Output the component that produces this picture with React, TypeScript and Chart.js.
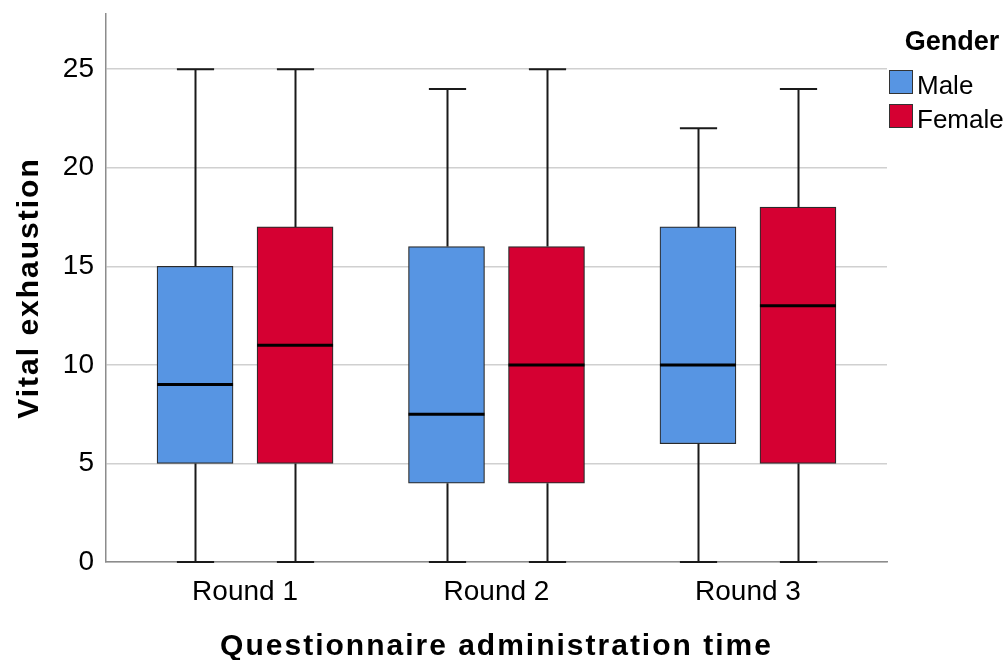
import React, { useEffect, useRef } from 'react';
import { Chart, registerables } from 'chart.js';

Chart.register(...registerables);

// ---- Data ----
const categories = ['Round 1', 'Round 2', 'Round 3'];
const seriesLabels = ['Male', 'Female'];
const seriesColors = ['#5795E3', '#D50032'];

const maleMin = [0, 0, 0];
const maleQ1 = [5, 4, 6];
const maleMedian = [9, 7.5, 10];
const maleQ3 = [15, 16, 17];
const maleMax = [25, 24, 22];

const femaleMin = [0, 0, 0];
const femaleQ1 = [5, 4, 5];
const femaleMedian = [11, 10, 13];
const femaleQ3 = [17, 16, 18];
const femaleMax = [25, 25, 24];

const yMin = 0;
const yMax = 27.8;
const yStep = 5;

const xTitle = 'Questionnaire administration time';
const yTitle = 'Vital exhaustion';
const legendTitle = 'Gender';

const FONT = '"Liberation Sans", Arial, sans-serif';

const stats = [
  { min: maleMin, q1: maleQ1, med: maleMedian, q3: maleQ3, max: maleMax },
  { min: femaleMin, q1: femaleQ1, med: femaleMedian, q3: femaleQ3, max: femaleMax },
];

const boxPlugin = {
  id: 'boxWhiskers',
  beforeDraw(chart: any) {
    for (const id of ['x', 'y']) {
      const s: any = chart.scales[id];
      if (s && !s.__ls) {
        const orig = s.drawTitle.bind(s);
        s.drawTitle = () => {
          const c = s.ctx;
          c.save();
          (c as any).letterSpacing = '2px';
          orig();
          c.restore();
        };
        s.__ls = true;
      }
    }
  },
  afterDatasetsDraw(chart: any) {
    const ctx = chart.ctx;
    const y = chart.scales.y;
    stats.forEach((st, d) => {
      const meta = chart.getDatasetMeta(d);
      meta.data.forEach((bar: any, i: number) => {
        const cx = Math.round(bar.x) + 0.5;
        const w = bar.width;
        const capHalf = w * 0.245;
        const pMin = y.getPixelForValue(st.min[i]);
        const pQ1 = y.getPixelForValue(st.q1[i]);
        const pMed = y.getPixelForValue(st.med[i]);
        const pQ3 = y.getPixelForValue(st.q3[i]);
        const pMax = y.getPixelForValue(st.max[i]);
        ctx.save();
        ctx.strokeStyle = '#1a1a1a';
        ctx.lineWidth = 2;
        ctx.beginPath();
        ctx.moveTo(cx, pMin);
        ctx.lineTo(cx, pQ1);
        ctx.moveTo(cx, pQ3);
        ctx.lineTo(cx, pMax);
        ctx.moveTo(cx - capHalf, pMin);
        ctx.lineTo(cx + capHalf, pMin);
        ctx.moveTo(cx - capHalf, pMax);
        ctx.lineTo(cx + capHalf, pMax);
        ctx.stroke();
        ctx.strokeStyle = '#000';
        ctx.lineWidth = 3;
        ctx.beginPath();
        ctx.moveTo(bar.x - w / 2, pMed);
        ctx.lineTo(bar.x + w / 2, pMed);
        ctx.stroke();
        ctx.restore();
      });
    });
  },
  afterDraw(chart: any) {
    const ctx = chart.ctx;
    ctx.save();
    ctx.fillStyle = '#000';
    ctx.textBaseline = 'middle';
    ctx.textAlign = 'center';
    ctx.font = `bold 27px ${FONT}`;
    ctx.fillText(legendTitle, 952, 43);
    ctx.textAlign = 'left';
    ctx.textBaseline = 'alphabetic';
    ctx.font = `26px ${FONT}`;
    seriesLabels.forEach((lab, k) => {
      const top = 70 + k * 34;
      ctx.fillStyle = seriesColors[k];
      ctx.fillRect(889, top, 24, 24);
      ctx.strokeStyle = '#333';
      ctx.lineWidth = 1;
      ctx.strokeRect(889.5, top + 0.5, 23, 23);
      ctx.fillStyle = '#000';
      ctx.fillText(lab, 917, top + 24);
    });
    ctx.restore();
  },
};

export default function App() {
  const ref = useRef<HTMLCanvasElement>(null);
  useEffect(() => {
    const datasets = stats.map((st, d) => ({
      label: seriesLabels[d],
      data: categories.map((_, i) => ({ x: i + 1, y: [st.q1[i], st.q3[i]] })),
      backgroundColor: seriesColors[d],
      borderColor: '#2a2a2a',
      borderWidth: 1.2,
      borderSkipped: false as any,
      barThickness: 100,
      maxBarThickness: 76,
    }));
    const chart = new Chart(ref.current!, {
      type: 'bar',
      data: { datasets: datasets as any },
      options: {
        animation: false,
        responsive: true,
        maintainAspectRatio: false,
        events: [],
        layout: { padding: { left: 0, right: 121, top: 14, bottom: 0 } },
        plugins: { legend: { display: false }, tooltip: { enabled: false } },
        scales: {
          x: {
            type: 'linear',
            offset: false,
            min: 0.447,
            max: 3.553,
            grid: { display: false, offset: false },
            border: { display: true, color: '#8c8c8c', width: 1.5 },
            afterBuildTicks: (s: any) => {
              s.ticks = categories.map((_, i) => ({ value: i + 1 }));
            },
            afterFit: (s: any) => {
              s.height = 98;
              s.paddingLeft = 0;
              s.paddingRight = 0;
            },
            ticks: {
              autoSkip: false,
              maxRotation: 0,
              color: '#000',
              padding: 5,
              font: { family: FONT, size: 28 },
              callback: (v: any) => categories[Number(v) - 1] ?? '',
            },
            title: {
              display: true,
              text: xTitle,
              color: '#000',
              font: { family: FONT, size: 30, weight: 'bold', lineHeight: 0.9 },
              padding: { top: 0, bottom: 0 },
            },
          },
          y: {
            type: 'linear',
            min: yMin,
            max: yMax,
            afterFit: (s: any) => {
              s.width = 106;
              s.paddingTop = 0;
              s.paddingBottom = 0;
            },
            grid: { color: '#d0d0d0', lineWidth: 1.5, drawTicks: false },
            border: { display: true, color: '#8c8c8c', width: 1.5 },
            ticks: {
              stepSize: yStep,
              includeBounds: false,
              color: '#000',
              padding: 12,
              font: { family: FONT, size: 28 },
            },
            title: {
              display: true,
              text: yTitle,
              color: '#000',
              font: { family: FONT, size: 30, weight: 'bold', lineHeight: 0.9 },
              padding: { top: 16, bottom: 0 },
            },
          },
        },
      } as any,
      plugins: [boxPlugin],
    });
    return () => chart.destroy();
  }, []);
  return (
    <div style={{ position: 'fixed', left: 0, top: 0, width: 1008, height: 660 }}>
      <canvas ref={ref} />
    </div>
  );
}
